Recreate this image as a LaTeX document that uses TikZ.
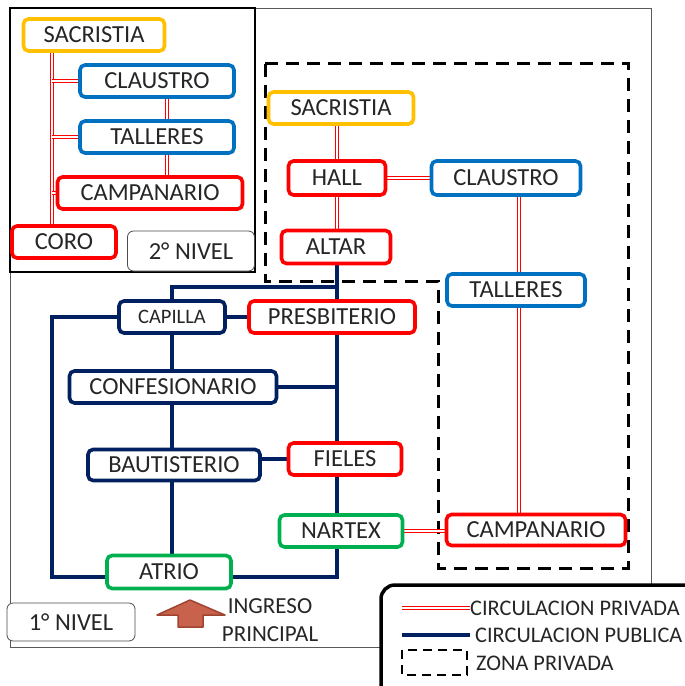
\documentclass[tikz,border=0pt]{standalone}
\usepackage{fontspec}
\setmainfont{Carlito}
\usetikzlibrary{positioning, backgrounds}
\definecolor{privred}{RGB}{255, 0, 0}
\definecolor{pubnavy}{RGB}{0, 32, 96}
\definecolor{sacyellow}{RGB}{255, 192, 0}
\definecolor{roomblue}{RGB}{0, 112, 192}
\definecolor{entgreen}{RGB}{0, 176, 80}
\definecolor{arrowbrown}{RGB}{201, 98, 76}
\definecolor{arrowedge}{RGB}{158, 68, 48}
\definecolor{labelgray}{RGB}{38, 38, 38}

\begin{document}
\begin{tikzpicture}[x=1pt, y=-1pt,
  room/.style={draw=#1, line width=3.6pt, rounded corners=5pt, fill=white, text=labelgray,
    font=\fontsize{24.5}{28}\selectfont, inner sep=0pt, minimum height=32pt},
  levelbox/.style={draw=black!70, line width=0.8pt, rounded corners=6pt, fill=white, text=labelgray,
    font=\fontsize{24.5}{28}\selectfont, inner sep=0pt},
  privline/.style={draw=privred, double=white, line width=0.8pt, double distance=1.6pt},
  publine/.style={draw=pubnavy, line width=3.2pt},
  zone/.style={draw=black, line width=3pt, dash pattern=on 13pt off 8pt},
  legtext/.style={text=labelgray, font=\fontsize{22.3}{26}\selectfont, inner sep=0pt, anchor=west}
]
\useasboundingbox (0,0) rectangle (685,686);

% second level
\node[room=sacyellow, minimum width=141pt] (sac2) at (94,35) {SACRISTIA};
\node[room=roomblue, minimum width=154pt] (clau2) at (157,81) {CLAUSTRO};
\node[room=roomblue, minimum width=154pt] (tall2) at (157,137) {TALLERES};
\node[room=privred, minimum width=185pt] (camp2) at (150,193) {CAMPANARIO};
\node[room=privred, minimum width=104pt] (coro) at (64,242) {CORO};
\node[levelbox, minimum width=127pt, minimum height=40pt] (nivel2) at (191,251) {2° NIVEL};

% first level, private zone
\node[room=sacyellow, minimum width=145pt] (sac1) at (341,108) {SACRISTIA};
\node[room=privred, minimum width=97pt, minimum height=34pt] (hall) at (337,178) {HALL};
\node[room=roomblue, minimum width=149pt, minimum height=34pt] (clau1) at (506,178) {CLAUSTRO};
\node[room=privred, minimum width=109pt, minimum height=33pt] (altar) at (336,247) {ALTAR};
\node[room=roomblue, minimum width=138pt] (tall1) at (516,290) {TALLERES};
\node[room=privred, minimum width=179pt, minimum height=31pt] (camp1) at (536,530) {CAMPANARIO};

% first level, public
\node[room=pubnavy, minimum width=106pt, font=\fontsize{20.5}{24}\selectfont] (capilla) at (172,317) {CAPILLA};
\node[room=privred, minimum width=166pt] (presb) at (332,317) {PRESBITERIO};
\node[room=pubnavy, minimum width=207pt] (confes) at (173,387) {CONFESIONARIO};
\node[room=pubnavy, minimum width=172pt, minimum height=31pt] (baut) at (174,465) {BAUTISTERIO};
\node[room=privred, minimum width=113pt] (fieles) at (345,459) {FIELES};
\node[room=entgreen, minimum width=123pt] (nartex) at (341,531) {NARTEX};
\node[room=entgreen, minimum width=124pt, minimum height=33pt] (atrio) at (169,572) {ATRIO};

\node[levelbox, minimum width=128pt, minimum height=38pt] (nivel1) at (71,622) {1° NIVEL};
\node[text=labelgray, font=\fontsize{23}{28}\selectfont, align=center, inner sep=0pt] (ingreso) at (270,620) {INGRESO\\PRINCIPAL};

\coordinate (sp2) at (52,0);
\coordinate (rx2) at (167,0);
\coordinate (rx1) at (519,0);
\coordinate (spine) at (337,0);
\coordinate (ring) at (52,0);
\coordinate (topy) at (0,287);
\coordinate (lowy) at (0,577);

\begin{scope}[on background layer]
  \draw[black!65, line width=0.8pt] (10,8) rectangle (651,647);
  \draw[black, line width=1.2pt, fill=white] (10,8) rectangle (255,272);
  \draw[zone] (265,63) -- (628,63) -- (628,568) -- (438,568) -- (438,281) -- (265,281) -- cycle;

  \draw[privline] (sac2.south -| sp2) -- (coro.north -| sp2);
  \draw[privline] (clau2.west) -- (clau2.west -| sp2);
  \draw[privline] (tall2.west) -- (tall2.west -| sp2);
  \draw[privline] (camp2.west) -- (camp2.west -| sp2);
  \draw[privline] (clau2.south -| rx2) -- (tall2.north -| rx2);
  \draw[privline] (tall2.south -| rx2) -- (camp2.north -| rx2);

  \draw[privline] (sac1.south -| hall) -- (hall.north);
  \draw[privline] (hall.south) -- (hall.south |- altar.north);
  \draw[privline] (hall.east) -- (clau1.west);
  \draw[privline] (clau1.south -| rx1) -- (tall1.north -| rx1);
  \draw[privline] (tall1.south -| rx1) -- (camp1.north -| rx1);
  \draw[privline] (nartex.east) -- (nartex.east -| camp1.west);

  \draw[publine] (altar.south -| spine) -- (spine |- lowy) -- (atrio.east |- lowy);
  \draw[publine] (spine |- topy) -- (capilla.north |- topy) -- (capilla.north);
  \draw[publine] (capilla.west) -- (capilla.west -| ring) -- (ring |- lowy) -- (atrio.west |- lowy);
  \draw[publine] (capilla.east) -- (presb.west);
  \draw[publine] (capilla.south) -- (capilla.south |- confes.north);
  \draw[publine] (confes.east) -- ([xshift=2pt]confes.east -| spine);
  \draw[publine] (capilla.south |- confes.south) -- (capilla.south |- baut.north);
  \draw[publine] (baut.east |- fieles.west) -- (fieles.west);
  \draw[publine] (capilla.south |- baut.south) -- (capilla.south |- atrio.north);
\end{scope}

% entrance arrow
\draw[arrowedge, fill=arrowbrown, line width=1.5pt, line join=round]
  (190,600) -- (225,615) -- (203,615) -- (203,627) -- (178,627) -- (178,615) -- (157,615) -- cycle;

% legend
\draw[black, line width=3.5pt, rounded corners=14pt, fill=white] (381,585) rectangle (705,705);
\coordinate (lg1) at (402,608);
\coordinate (lg2) at (470,608);
\coordinate (lg3) at (402,635);
\coordinate (lg4) at (470,635);
\draw[privline] (lg1) -- (lg2);
\node[legtext] (lgpriv) at (470,608) {CIRCULACION PRIVADA};
\draw[publine] (lg3) -- (lg4);
\node[legtext] (lgpub) at (475,635) {CIRCULACION PUBLICA};
\draw[black, line width=2.5pt, dash pattern=on 9pt off 6pt] (402,650) rectangle (467,675);
\node[legtext] (lgzone) at (476,663) {ZONA PRIVADA};
\end{tikzpicture}
\end{document}
